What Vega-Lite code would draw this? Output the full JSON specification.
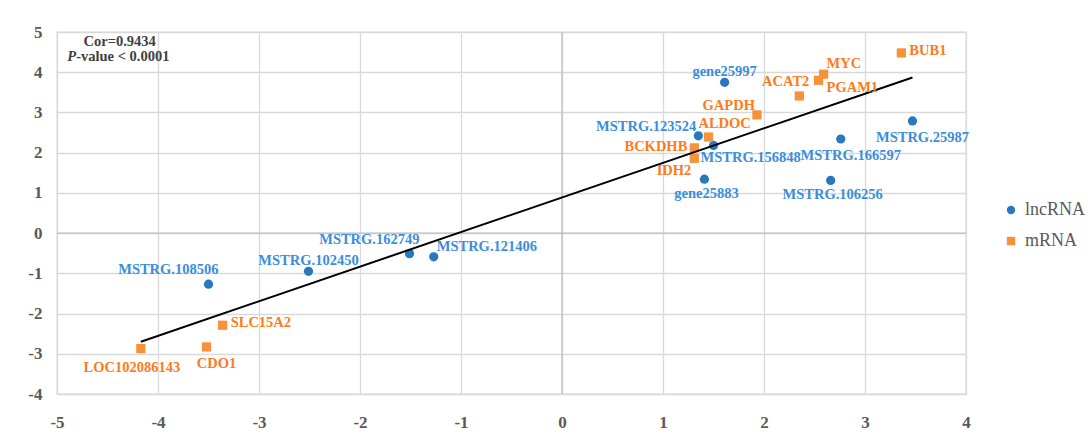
{
  "$schema": "https://vega.github.io/schema/vega-lite/v6.json",
  "autosize": "none",
  "width": 909,
  "height": 362,
  "padding": {"left": 57, "top": 32, "right": 123, "bottom": 45},
  "background": "white",
  "datasets": {
    "genes": [
      {"gene": "gene25997", "type": "lncRNA", "x": 1.61, "y": 3.75, "side": "above"},
      {"gene": "MSTRG.123524", "type": "lncRNA", "x": 1.35, "y": 2.42, "side": "left-up"},
      {"gene": "MSTRG.156848", "type": "lncRNA", "x": 1.50, "y": 2.18, "side": "under"},
      {"gene": "gene25883", "type": "lncRNA", "x": 1.41, "y": 1.34, "side": "below"},
      {"gene": "MSTRG.166597", "type": "lncRNA", "x": 2.76, "y": 2.34, "side": "below-right"},
      {"gene": "MSTRG.106256", "type": "lncRNA", "x": 2.66, "y": 1.31, "side": "below"},
      {"gene": "MSTRG.25987", "type": "lncRNA", "x": 3.47, "y": 2.79, "side": "below-right"},
      {"gene": "MSTRG.108506", "type": "lncRNA", "x": -3.50, "y": -1.27, "side": "left-above"},
      {"gene": "MSTRG.102450", "type": "lncRNA", "x": -2.51, "y": -0.95, "side": "above"},
      {"gene": "MSTRG.162749", "type": "lncRNA", "x": -1.51, "y": -0.51, "side": "left-above"},
      {"gene": "MSTRG.121406", "type": "lncRNA", "x": -1.27, "y": -0.59, "side": "right-up"},
      {"gene": "BUB1", "type": "mRNA", "x": 3.36, "y": 4.48, "side": "right"},
      {"gene": "MYC", "type": "mRNA", "x": 2.59, "y": 3.95, "side": "right-up"},
      {"gene": "PGAM1", "type": "mRNA", "x": 2.54, "y": 3.80, "side": "right-low"},
      {"gene": "ACAT2", "type": "mRNA", "x": 2.35, "y": 3.41, "side": "left-above"},
      {"gene": "GAPDH", "type": "mRNA", "x": 1.93, "y": 2.94, "side": "left-up"},
      {"gene": "ALDOC", "type": "mRNA", "x": 1.45, "y": 2.39, "side": "over"},
      {"gene": "BCKDHB", "type": "mRNA", "x": 1.31, "y": 2.12, "side": "left"},
      {"gene": "IDH2", "type": "mRNA", "x": 1.31, "y": 1.86, "side": "left-low"},
      {"gene": "SLC15A2", "type": "mRNA", "x": -3.36, "y": -2.29, "side": "right"},
      {"gene": "CDO1", "type": "mRNA", "x": -3.52, "y": -2.83, "side": "below-right"},
      {"gene": "LOC102086143", "type": "mRNA", "x": -4.17, "y": -2.87, "side": "below-left"}
    ],
    "fit": [
      {"x": -4.17, "y": -2.70},
      {"x": 3.47, "y": 3.87}
    ],
    "note": [
      {"cor": "Cor=0.9434", "p": "P", "pv": "-value < 0.0001", "zero": 0, "cx": -4.38, "cy": 4.75, "px": -4.81, "py": 4.38}
    ]
  },
  "layer": [
    {
      "data": {"name": "note"},
      "mark": {"type": "rule", "color": "#BFBFBF", "strokeWidth": 1.3},
      "encoding": {"x": {"field": "zero", "type": "quantitative"}}
    },
    {
      "data": {"name": "note"},
      "mark": {"type": "rule", "color": "#BFBFBF", "strokeWidth": 1.3},
      "encoding": {"y": {"field": "zero", "type": "quantitative"}}
    },
    {
      "data": {"name": "genes"},
      "mark": {"type": "point", "filled": true, "opacity": 1, "size": 85},
      "encoding": {
        "x": {
          "field": "x", "type": "quantitative",
          "scale": {"domain": [-5, 4], "nice": false, "zero": false},
          "axis": {"values": [-5, -4, -3, -2, -1, 0, 1, 2, 3, 4], "labelPadding": 20, "labelFlush": false, "labelExpr": "'' + datum.value"}
        },
        "y": {
          "field": "y", "type": "quantitative",
          "scale": {"domain": [-4, 5], "nice": false, "zero": false},
          "axis": {"values": [-4, -3, -2, -1, 0, 1, 2, 3, 4, 5], "labelPadding": 15, "labelExpr": "'' + datum.value"}
        },
        "color": {
          "field": "type", "type": "nominal",
          "scale": {"domain": ["lncRNA", "mRNA"], "range": ["#2878BE", "#F7923A"]},
          "legend": {"title": null, "orient": "none", "legendX": 945, "legendY": 169}
        },
        "shape": {
          "field": "type", "type": "nominal",
          "scale": {"domain": ["lncRNA", "mRNA"], "range": ["circle", "square"]},
          "legend": {"title": null, "orient": "none", "legendX": 945, "legendY": 169}
        }
      }
    },
    {
      "data": {"name": "fit"},
      "mark": {"type": "line", "color": "#000000", "strokeWidth": 2},
      "encoding": {
        "x": {"field": "x", "type": "quantitative"},
        "y": {"field": "y", "type": "quantitative"}
      }
    },
    {
      "data": {"name": "genes"},
      "encoding": {
        "x": {"field": "x", "type": "quantitative"},
        "y": {"field": "y", "type": "quantitative"},
        "text": {"field": "gene"},
        "color": {"condition": {"test": "datum.type === 'lncRNA'", "value": "#3A8EDC"}, "value": "#FF7A1A"}
      },
      "layer": [
        {"transform": [{"filter": "datum.side === 'above'"}], "mark": {"type": "text", "align": "center", "baseline": "middle", "dx": 0, "dy": -10}},
        {"transform": [{"filter": "datum.side === 'below'"}], "mark": {"type": "text", "align": "center", "baseline": "middle", "dx": 2, "dy": 15}},
        {"transform": [{"filter": "datum.side === 'below-right'"}], "mark": {"type": "text", "align": "center", "baseline": "middle", "dx": 10, "dy": 17}},
        {"transform": [{"filter": "datum.side === 'below-left'"}], "mark": {"type": "text", "align": "center", "baseline": "middle", "dx": -9, "dy": 19}},
        {"transform": [{"filter": "datum.side === 'left'"}], "mark": {"type": "text", "align": "right", "baseline": "middle", "dx": -7, "dy": -1}},
        {"transform": [{"filter": "datum.side === 'left-low'"}], "mark": {"type": "text", "align": "right", "baseline": "middle", "dx": -3, "dy": 13}},
        {"transform": [{"filter": "datum.side === 'left-up'"}], "mark": {"type": "text", "align": "right", "baseline": "middle", "dx": -2, "dy": -9}},
        {"transform": [{"filter": "datum.side === 'left-above'"}], "mark": {"type": "text", "align": "right", "baseline": "middle", "dx": 10, "dy": -14}},
        {"transform": [{"filter": "datum.side === 'right'"}], "mark": {"type": "text", "align": "left", "baseline": "middle", "dx": 8, "dy": -2}},
        {"transform": [{"filter": "datum.side === 'right-low'"}], "mark": {"type": "text", "align": "left", "baseline": "middle", "dx": 8, "dy": 8}},
        {"transform": [{"filter": "datum.side === 'right-up'"}], "mark": {"type": "text", "align": "left", "baseline": "middle", "dx": 3, "dy": -10}},
        {"transform": [{"filter": "datum.side === 'over'"}], "mark": {"type": "text", "align": "left", "baseline": "middle", "dx": -10, "dy": -13}},
        {"transform": [{"filter": "datum.side === 'under'"}], "mark": {"type": "text", "align": "left", "baseline": "middle", "dx": -13, "dy": 13}}
      ]
    },
    {
      "data": {"name": "note"},
      "mark": {"type": "text", "align": "center", "baseline": "middle", "fontSize": 14.5, "fontWeight": "bold", "color": "#404040"},
      "encoding": {
        "x": {"field": "cx", "type": "quantitative"},
        "y": {"field": "cy", "type": "quantitative"},
        "text": {"field": "cor"}
      }
    },
    {
      "data": {"name": "note"},
      "mark": {"type": "text", "align": "right", "baseline": "middle", "fontSize": 14.5, "fontWeight": "bold", "fontStyle": "italic", "color": "#404040"},
      "encoding": {
        "x": {"field": "px", "type": "quantitative"},
        "y": {"field": "py", "type": "quantitative"},
        "text": {"field": "p"}
      }
    },
    {
      "data": {"name": "note"},
      "mark": {"type": "text", "align": "left", "baseline": "middle", "fontSize": 14.5, "fontWeight": "bold", "color": "#404040"},
      "encoding": {
        "x": {"field": "px", "type": "quantitative"},
        "y": {"field": "py", "type": "quantitative"},
        "text": {"field": "pv"}
      }
    }
  ],
  "config": {
    "font": "Liberation Serif",
    "view": {"stroke": "#D9D9D9", "strokeWidth": 1.3},
    "text": {"font": "Liberation Serif", "fontSize": 14.5, "fontWeight": "bold"},
    "axis": {
      "title": null,
      "grid": true,
      "gridColor": "#D9D9D9",
      "gridWidth": 1.3,
      "domain": false,
      "ticks": false,
      "labelFont": "Liberation Serif",
      "labelFontSize": 17,
      "labelFontWeight": "bold",
      "labelColor": "#595959",
      "labelOverlap": false
    },
    "legend": {
      "labelFont": "Liberation Serif",
      "labelFontSize": 18,
      "labelColor": "#595959",
      "symbolSize": 70,
      "rowPadding": 13,
      "padding": 0,
      "labelOffset": 5
    }
  }
}
